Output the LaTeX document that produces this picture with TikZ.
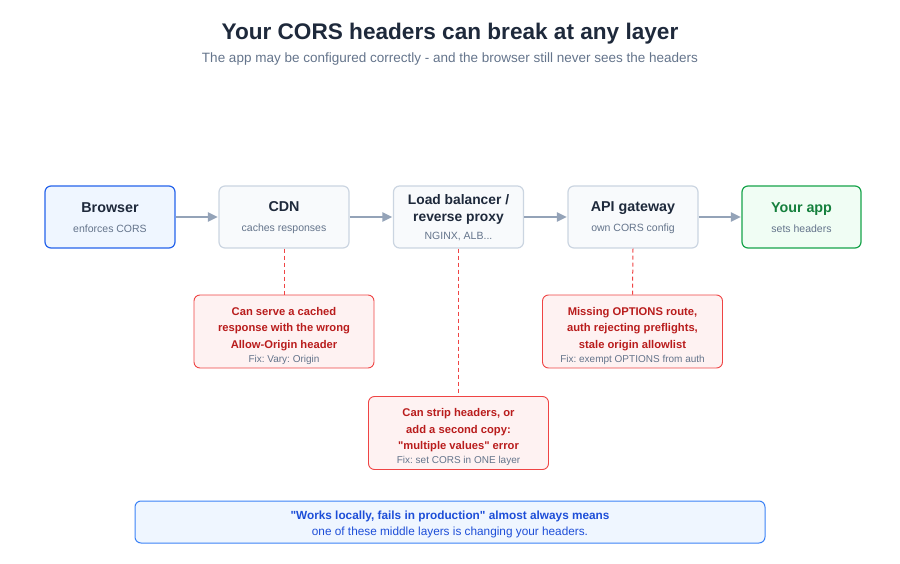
\documentclass[tikz,border=0pt]{standalone}
\usepackage{fontspec}
\setmainfont{Liberation Sans}[Ligatures=TeXOff]
\usetikzlibrary{arrows.meta}
\frenchspacing
\definecolor{titlec}{HTML}{1E293B}
\definecolor{subc}{HTML}{64748B}
\definecolor{grayb}{HTML}{CBD5E1}
\definecolor{grayf}{HTML}{F8FAFC}
\definecolor{blueb}{HTML}{2563EB}
\definecolor{bluef}{HTML}{EFF6FF}
\definecolor{greenb}{HTML}{16A34A}
\definecolor{greenf}{HTML}{F0FDF4}
\definecolor{greent}{HTML}{15803D}
\definecolor{redb}{HTML}{EF4444}
\definecolor{redf}{HTML}{FEF2F2}
\definecolor{redt}{HTML}{B91C1C}
\definecolor{arrc}{HTML}{94A3B8}
\definecolor{notet}{HTML}{1D4ED8}
\definecolor{noteb}{HTML}{3B82F6}
\tikzset{
  layer/.style={draw=grayb, fill=grayf, rounded corners=6pt, line width=1.2pt,
    minimum width=130pt, minimum height=62pt, inner sep=0pt},
  layertext/.style={align=center, inner sep=0pt, text=titlec,
    font=\frenchspacing\fontsize{14.3}{17}\selectfont\bfseries},
  issue/.style={draw=redb, fill=redf, rounded corners=6pt, line width=0.9pt,
    minimum width=180pt, minimum height=73pt, inner sep=0pt},
  issuetext/.style={align=center, inner sep=0pt, text=redt,
    font=\frenchspacing\fontsize{11.2}{16.5}\selectfont\bfseries},
  arr/.style={draw=arrc, line width=2pt, -{Triangle[length=10pt,width=9pt]}, shorten >=0.5pt},
  redlink/.style={draw=redb, line width=1pt, dash pattern=on 4pt off 3pt},
}
\newcommand{\subt}[1]{{\fontsize{10.5}{13}\selectfont\mdseries\color{subc}#1}}
\newcommand{\fixt}[1]{{\fontsize{10}{12}\selectfont\mdseries\color{subc}#1}}
\begin{document}
\begin{tikzpicture}[x=1pt,y=-1pt]
\useasboundingbox (0,0) rectangle (900,564);
\node[font=\fontsize{22.6}{26}\selectfont\bfseries, text=titlec] (title) at (450,33.5) {Your CORS headers can break at any layer};
\node[font=\fontsize{13.5}{16}\selectfont, text=subc] (subtitle) at (450,59.5) {The app may be configured correctly - and the browser still never sees the headers};

\node[layer, draw=blueb, fill=bluef] (br) at (110,217) {};
\node[layertext] (brt) at (110,218) {Browser\\[3pt]\subt{enforces CORS}};
\node[layer] (cdn) at (284,217) {};
\node[layertext] (cdnt) at (284,218) {CDN\\[3pt]\subt{caches responses}};
\node[layer] (lb) at (458.5,217) {};
\node[layertext, font=\frenchspacing\fontsize{13.8}{17}\selectfont\bfseries] (lbt) at (458.5,218) {Load balancer /\\reverse proxy\\[1pt]\subt{NGINX, ALB...}};
\node[layer] (api) at (633,217) {};
\node[layertext] (apit) at (633,218) {API gateway\\[3pt]\subt{own CORS config}};
\node[layer, draw=greenb, fill=greenf, minimum width=119pt] (app) at (801.5,217) {};
\node[layertext, text=greent] (appt) at (801.5,218) {Your app\\[3pt]\subt{sets headers}};

\draw[arr] (br) -- (cdn);
\draw[arr] (cdn) -- (lb);
\draw[arr] (lb) -- (api);
\draw[arr] (api) -- (app);

\node[issue] (icdn) at (284,331.5) {};
\node[issuetext] (icdnt) at (284,335.5) {Can serve a cached\\response with the wrong\\Allow-Origin header\\[-2.5pt]\fixt{Fix: Vary: Origin}};
\node[issue] (ilb) at (458.5,433) {};
\node[issuetext] (ilbt) at (458.5,437) {Can strip headers, or\\add a second copy:\\"multiple values" error\\[-2.5pt]\fixt{Fix: set CORS in ONE layer}};
\node[issue] (iapi) at (632.5,331.5) {};
\node[issuetext] (iapit) at (632.5,335.5) {Missing OPTIONS route,\\auth rejecting preflights,\\stale origin allowlist\\[-2.5pt]\fixt{Fix: exempt OPTIONS from auth}};

\draw[redlink] (cdn.south) -- (icdn.north);
\draw[redlink] (lb.south) -- (ilb.north);
\draw[redlink] (api.south) -- (iapi.north);

\node[draw=noteb, fill=bluef, rounded corners=6pt, line width=1pt, minimum width=630pt, minimum height=42pt, inner sep=0pt] (note) at (450,522) {};
\node[align=center, inner sep=0pt, text=notet, font=\frenchspacing\fontsize{11.8}{16}\selectfont] (notet) at (450,524.5)
  {{\bfseries "Works locally, fails in production" almost always means}\\one of these middle layers is changing your headers.};
\end{tikzpicture}
\end{document}
